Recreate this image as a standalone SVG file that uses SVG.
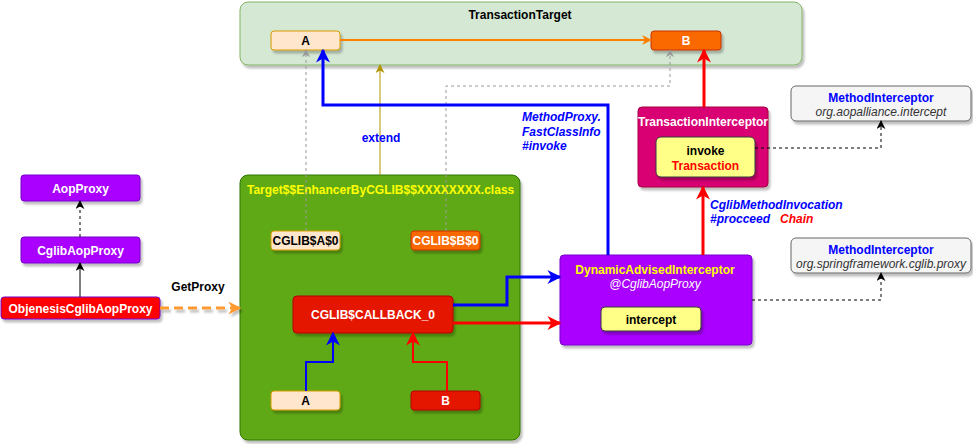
<svg xmlns="http://www.w3.org/2000/svg" width="973" height="444" viewBox="0 0 973 444">
<defs>
<filter id="sh" x="-10%" y="-10%" width="130%" height="140%">
<feDropShadow dx="2" dy="3" stdDeviation="1" flood-color="#000" flood-opacity="0.25"/>
</filter>
<filter id="shl" filterUnits="userSpaceOnUse" x="150" y="295" width="100" height="30">
<feDropShadow dx="2" dy="3" stdDeviation="1" flood-color="#000" flood-opacity="0.25"/>
</filter>
<marker id="mOr" viewBox="0 0 10 10" refX="9" refY="5" markerWidth="10" markerHeight="10" markerUnits="userSpaceOnUse" orient="auto"><path d="M0,0 L10,5 L0,10 L3,5 z" fill="#ff8000"/></marker>
<marker id="mOr2" viewBox="0 0 10 10" refX="9" refY="5" markerWidth="13" markerHeight="13" markerUnits="userSpaceOnUse" orient="auto"><path d="M0,0 L10,5 L0,10 L3,5 z" fill="#ff9933"/></marker>
<marker id="mGr" viewBox="0 0 10 10" refX="9" refY="5" markerWidth="8" markerHeight="8" markerUnits="userSpaceOnUse" orient="auto"><path d="M0,0 L10,5 L0,10 L3,5 z" fill="#999999"/></marker>
<marker id="mYe" viewBox="0 0 10 10" refX="9" refY="5" markerWidth="9" markerHeight="9" markerUnits="userSpaceOnUse" orient="auto"><path d="M0,0 L10,5 L0,10 L3,5 z" fill="#b09500"/></marker>
<marker id="mBl" viewBox="0 0 10 10" refX="9" refY="5" markerWidth="14" markerHeight="14" markerUnits="userSpaceOnUse" orient="auto"><path d="M0,0 L10,5 L0,10 L3,5 z" fill="#0000ff"/></marker>
<marker id="mRe" viewBox="0 0 10 10" refX="9" refY="5" markerWidth="14" markerHeight="14" markerUnits="userSpaceOnUse" orient="auto"><path d="M0,0 L10,5 L0,10 L3,5 z" fill="#ff0000"/></marker>
<marker id="mBk" viewBox="0 0 10 10" refX="9" refY="5" markerWidth="9" markerHeight="9" markerUnits="userSpaceOnUse" orient="auto"><path d="M0,0 L10,5 L0,10 L3,5 z" fill="#000000"/></marker>
</defs>
<style>
text{font-family:"Liberation Sans",Arial,sans-serif;font-size:12px;font-weight:bold;text-anchor:middle}
.box{filter:url(#sh)}
.peach{fill:#ffe6cc;stroke:#d79b00}
.orange{fill:#fa6800;stroke:#c73500}
.red{fill:#e51400;stroke:#b20000}
.purple{fill:#aa00ff;stroke:#7700cc}
.yel{fill:#ffff88;stroke:#36393d}
.grey{fill:#f5f5f5;stroke:#666666}
.w{fill:#ffffff}
.k{fill:#000000}
.b{fill:#0000ff}
.r{fill:#ff0000}
.it{font-style:italic}
.reg{font-weight:normal}
</style>

<g id="transaction-target">
<rect class="box" x="240" y="2" width="562" height="63" rx="8" fill="#d5e8d4" stroke="#82b366"/>
<text x="520" y="19" class="k">TransactionTarget</text>
</g>
<g id="target-a">
<rect class="box peach" x="271" y="31" width="69" height="19" rx="3"/>
<text x="305.5" y="44.5" class="k">A</text>
</g>
<g id="target-b">
<rect class="box orange" x="651" y="31" width="70" height="19" rx="3"/>
<text x="686" y="44.5" class="w">B</text>
</g>

<g id="enhancer">
<rect class="box" x="240" y="175" width="280" height="265" rx="8" fill="#60a917" stroke="#2d7600"/>
<text x="247" y="194" style="text-anchor:start" fill="#ffff00">Target$$EnhancerByCGLIB$$XXXXXXXX.class</text>
</g>
<g id="cglib-a0">
<rect class="box peach" x="271" y="231" width="69" height="19" rx="3"/>
<text x="305.5" y="245" class="k">CGLIB$A$0</text>
</g>
<g id="cglib-b0">
<rect class="box orange" x="411" y="231" width="69" height="19" rx="3"/>
<text x="445.5" y="245" class="w">CGLIB$B$0</text>
</g>
<g id="callback">
<rect class="box red" x="293" y="296" width="160" height="37" rx="4"/>
<text x="373" y="319" class="w">CGLIB$CALLBACK_0</text>
</g>
<g id="enh-a">
<rect class="box peach" x="271" y="391" width="69" height="19" rx="3"/>
<text x="305.5" y="405" class="k">A</text>
</g>
<g id="enh-b">
<rect class="box red" x="411" y="391" width="69" height="19" rx="3"/>
<text x="445.5" y="405" class="w">B</text>
</g>

<g id="aop-proxy">
<rect class="box purple" x="21" y="175" width="119" height="26" rx="3"/>
<text x="80.5" y="192.5" class="w">AopProxy</text>
</g>
<g id="cglib-aop-proxy">
<rect class="box purple" x="21" y="237" width="119" height="26" rx="3"/>
<text x="80.5" y="254.5" class="w">CglibAopProxy</text>
</g>
<g id="objenesis">
<rect class="box" x="1" y="297" width="159" height="22" rx="3" fill="#ff0000" stroke="#7700cc"/>
<text x="80.5" y="312.5" class="w">ObjenesisCglibAopProxy</text>
</g>

<g id="dynamic-advised">
<rect class="box purple" x="560" y="255" width="192" height="90" rx="4"/>
<text x="655" y="274" fill="#ffff00">DynamicAdvisedInterceptor</text>
<text x="655" y="287.5" class="w it reg">@CglibAopProxy</text>
<rect class="box yel" x="601" y="307" width="100" height="24" rx="4"/>
<text x="651" y="323.5" class="k">intercept</text>
</g>

<g id="transaction-interceptor">
<rect class="box" x="638" y="107" width="130" height="80" rx="4" fill="#d80073" stroke="#a50040"/>
<text x="703" y="126" class="w">TransactionInterceptor</text>
<rect class="box yel" x="656" y="137" width="99" height="40" rx="5"/>
<text x="705.5" y="155" class="k">invoke</text>
<text x="705.5" y="169.5" class="r">Transaction</text>
</g>

<g id="mi-aopalliance">
<rect class="box grey" x="791" y="86" width="180" height="35" rx="5"/>
<text x="881" y="101.5" class="b">MethodInterceptor</text>
<text x="881" y="115.5" class="it reg" fill="#333333">org.aopalliance.intercept</text>
</g>
<g id="mi-cglib">
<rect class="box grey" x="791" y="238" width="180" height="35" rx="5"/>
<text x="881" y="253.5" class="b">MethodInterceptor</text>
<text x="881" y="267.5" class="it reg" fill="#333333">org.springframework.cglib.proxy</text>
</g>

<g id="connectors" fill="none">
<path d="M340,40 L651,40" stroke="#ff8000" stroke-width="2" marker-end="url(#mOr)"/>
<path d="M306,231 L306,50" stroke="#999999" stroke-width="1" stroke-dasharray="3 3" marker-end="url(#mGr)"/>
<path d="M446,231 L446,86 L670,86 L670,50" stroke="#999999" stroke-width="1" stroke-dasharray="3 3" marker-end="url(#mGr)"/>
<path d="M380,175 L380,65" stroke="#b09500" stroke-width="1" marker-end="url(#mYe)"/>
<path d="M608,255 L608,105 L323,105 L323,50" stroke="#0000ff" stroke-width="3" marker-end="url(#mBl)"/>
<path d="M704,107 L704,50" stroke="#ff0000" stroke-width="3" marker-end="url(#mRe)"/>
<path d="M703,255 L703,187" stroke="#ff0000" stroke-width="3" marker-end="url(#mRe)"/>
<path d="M306,391 L306,362 L333,362 L333,333" stroke="#0000ff" stroke-width="2" marker-end="url(#mBl)"/>
<path d="M447,391 L447,362 L413,362 L413,333" stroke="#ff0000" stroke-width="2" marker-end="url(#mRe)"/>
<path d="M453,305 L507,305 L507,277 L560,277" stroke="#0000ff" stroke-width="3" marker-end="url(#mBl)"/>
<path d="M453,323 L560,323" stroke="#ff0000" stroke-width="3" marker-end="url(#mRe)"/>
<path d="M755,148 L881,148 L881,121" stroke="#000000" stroke-width="1" stroke-dasharray="3 3" marker-end="url(#mBk)"/>
<path d="M752,300 L881,300 L881,273" stroke="#000000" stroke-width="1" stroke-dasharray="3 3" marker-end="url(#mBk)"/>
<path d="M80,237 L80,201" stroke="#000000" stroke-width="1" stroke-dasharray="3 3" marker-end="url(#mBk)"/>
<path d="M80,297 L80,263" stroke="#000000" stroke-width="1" marker-end="url(#mBk)"/>
<path filter="url(#shl)" d="M160,308 L240,308" stroke="#ff9933" stroke-width="3" stroke-dasharray="9 5" marker-end="url(#mOr2)"/>
<text x="381" y="142" class="b">extend</text>
<text x="522" y="121" class="b it" style="text-anchor:start">MethodProxy.</text>
<text x="522" y="136" class="b it" style="text-anchor:start">FastClassInfo</text>
<text x="522" y="150" class="b it" style="text-anchor:start">#invoke</text>
<text x="710" y="209" class="b it" style="text-anchor:start">CglibMethodInvocation</text>
<text x="710" y="223" class="b it" style="text-anchor:start">#procceed</text>
<text x="780" y="223" class="r it" style="text-anchor:start">Chain</text>
<text x="198" y="291" class="k">GetProxy</text>
</g>
</svg>
